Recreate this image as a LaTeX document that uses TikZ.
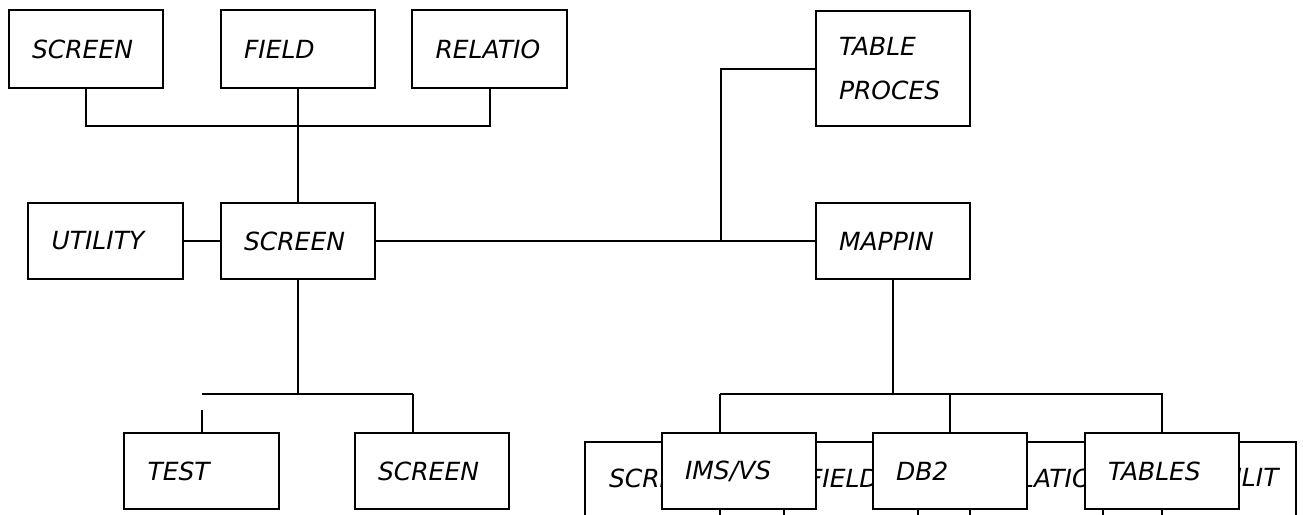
\documentclass[tikz,border=0pt]{standalone}
\usepackage{fontspec}
\setmainfont{DejaVu Sans}
\newfontfamily\handfont{DejaVu Sans}
\begin{document}
\begin{tikzpicture}[x=1pt,y=-1pt,line width=2pt,
  box/.style={draw,fill=white,anchor=north west,outer sep=0pt,minimum width=154pt,minimum height=77pt,
    inner xsep=23pt,inner ysep=0pt,text width=108pt,align=left,
    font=\handfont\itshape\fontsize{25}{44}\selectfont},
  bgbox/.style={draw,fill=white,anchor=north west,outer sep=0pt,minimum height=130pt,inner sep=0pt},
  bgtext/.style={anchor=west,inner sep=0pt,font=\handfont\itshape\fontsize{25}{44}\selectfont}]
\path[use as bounding box] (0,0) rectangle (1303,514);
\clip (0,0) rectangle (1303,514);
% background row (partly hidden)
\node[bgbox,minimum width=135pt] (bg1) at (585,442) {};
\node[bgbox,minimum width=134pt] (bg2) at (784,442) {};
\node[bgbox,minimum width=133pt] (bg3) at (970,442) {};
\node[bgbox,minimum width=134pt] (bg4) at (1162,442) {};
\node[bgtext] (bt1) at (608,478) {SCREEN};
\node[bgtext] (bt2) at (807,478) {FIELD};
\node[bgtext] (bt3) at (986,478) {RELATIO};
\node[bgtext] (bt4) at (1200,478) {UTILIT};
% boxes
\node[box,minimum height=78pt] (s1) at (9,10) {SCREEN};
\node[box,minimum height=78pt] (f1) at (221,10) {FIELD};
\node[box,minimum height=78pt,minimum width=155pt] (r1) at (412,10) {RELATIO};
\node[box,minimum height=115pt] (tp) at (816,11) {TABLE\\PROCES};
\node[box,minimum height=76pt,minimum width=155pt] (ut) at (28,203) {UTILITY};
\node[box,minimum height=76pt] (sc) at (221,203) {SCREEN};
\node[box,minimum height=76pt] (mp) at (816,203) {MAPPIN};
\node[box,minimum height=76pt,minimum width=155pt] (te) at (124,433) {TEST};
\node[box,minimum height=76pt] (s2) at (355,433) {SCREEN};
\node[box,minimum height=76pt] (ims) at (662,433) {IMS/VS};
\node[box,minimum height=76pt] (db) at (873,433) {DB2};
\node[box,minimum height=76pt] (tb) at (1085,433) {TABLES};
% connectors
\coordinate (jt) at (0,126);
\draw (s1.south) -- (s1.south |- jt) -| (r1.south);
\draw (f1.south) -- (sc.north);
\draw (ut.east) -- (sc.west);
\draw (sc.east) -- (mp.west);
\coordinate (jm) at (721,241);
\draw (tp.west) -| (jm);
\coordinate (jl) at (202,394);
\coordinate (jr) at (413,394);
\coordinate (jlt) at (202,410);
\draw (sc.south) -- (sc.south |- jl);
\draw (jl) -- (jr);
\draw (jlt) -- (jlt |- te.north);
\draw (jr) -- (jr |- s2.north);
\coordinate (ka) at (720,394);
\draw (mp.south) -- (mp.south |- ka);
\draw (ka) -- (tb.north |- ka) -- (tb.north);
\draw (ka) -- (ka |- ims.north);
\draw (db.north |- ka) -- (db.north);
\end{tikzpicture}
\end{document}
